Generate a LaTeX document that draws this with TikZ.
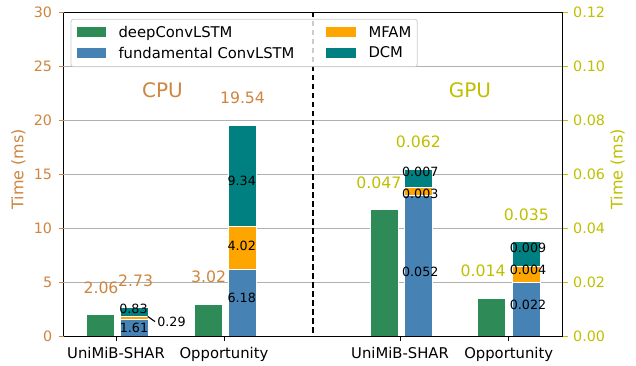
\documentclass[tikz,border=0pt]{standalone}
\usepackage{fontspec}
\setmainfont{DejaVu Sans}
\definecolor{cpuc}{HTML}{CD853F}
\definecolor{gpuc}{HTML}{BFBF00}
\definecolor{dgreen}{HTML}{2E8B57}
\definecolor{sblue}{HTML}{4682B4}
\definecolor{morange}{HTML}{FFA500}
\definecolor{dteal}{HTML}{008080}
\definecolor{gridc}{HTML}{B0B0B0}
\definecolor{legc}{HTML}{CCCCCC}
\tikzset{
  gridline/.style={gridc, line width=0.8pt},
  barbox/.style={draw=white, line width=0.5pt},
  seglabel/.style={inner sep=0pt, anchor=base, font=\fontsize{12.7}{14}\selectfont, text=black},
  cputot/.style={inner sep=0pt, anchor=base, font=\fontsize{15.7}{18}\selectfont, text=cpuc},
  gputot/.style={inner sep=0pt, anchor=base, font=\fontsize{15.7}{18}\selectfont, text=gpuc},
  biglabel/.style={inner sep=0pt, anchor=base, font=\fontsize{20}{24}\selectfont},
  ltick/.style={inner sep=0pt, anchor=base east, font=\fontsize{14.3}{16}\selectfont, text=cpuc},
  rtick/.style={inner sep=0pt, anchor=base west, font=\fontsize{14.3}{16}\selectfont, text=gpuc},
  xtick/.style={inner sep=0pt, anchor=base, font=\fontsize{14.8}{17}\selectfont},
  legtext/.style={inner sep=0pt, anchor=base west, font=\fontsize{14.8}{17}\selectfont},
  axlabel/.style={inner sep=0pt, anchor=center, rotate=90, font=\fontsize{16}{19}\selectfont},
}
\begin{document}
\begin{tikzpicture}[x=1pt,y=-1pt]
\useasboundingbox (0,0) rectangle (636,366);
% grid
\foreach \yy in {66.1,120.2,174.25,228.3,282.4}
  \draw[gridline] (63.5,\yy) -- (562.7,\yy);
% CPU UniMiB
\filldraw[barbox, fill=dgreen] (86,336.5) rectangle (114,314.2);
\filldraw[barbox, fill=sblue] (120,336.5) rectangle (148,319.1);
\filldraw[barbox, fill=morange] (120,319.1) rectangle (148,315.9);
\filldraw[barbox, fill=dteal] (120,315.9) rectangle (148,307.0);
% CPU Opportunity
\filldraw[barbox, fill=dgreen] (194,336.5) rectangle (222,303.8);
\filldraw[barbox, fill=sblue] (228,336.5) rectangle (256,269.6);
\filldraw[barbox, fill=morange] (228,269.6) rectangle (256,226.2);
\filldraw[barbox, fill=dteal] (228,226.2) rectangle (256,125.1);
% GPU UniMiB
\filldraw[barbox, fill=dgreen] (370,336.5) rectangle (398,209.4);
\filldraw[barbox, fill=sblue] (404,336.5) rectangle (432,195.3);
\filldraw[barbox, fill=morange] (404,195.3) rectangle (432,187.7);
\filldraw[barbox, fill=dteal] (404,187.7) rectangle (432,169.3);
% GPU Opportunity
\filldraw[barbox, fill=dgreen] (477,336.5) rectangle (505,298.3);
\filldraw[barbox, fill=sblue] (512,336.5) rectangle (540,282.7);
\filldraw[barbox, fill=morange] (512,282.7) rectangle (540,266.0);
\filldraw[barbox, fill=dteal] (512,266.0) rectangle (540,241.7);
% dashed separator
\coordinate (sepT) at (313,12);
\coordinate (sepB) at (313,336.5);
\draw[black, line width=1.8pt, dash pattern=on 5.5pt off 3.5pt] (sepT) -- (sepB);
% axes frame
\draw[black, line width=0.9pt] (63.5,12) rectangle (562.7,336.5);
% left ticks
\foreach \v/\yy in {0/336.5,5/282.4,10/228.3,15/174.25,20/120.2,25/66.1,30/12.0}{
  \draw[cpuc, line width=0.8pt] (58.6,\yy) -- (63.5,\yy);
  \node[ltick] (lt\v) at (52.3,\yy+5.2) {\v};
}
% right ticks
\foreach \v/\yy in {0.00/336.5,0.02/282.4,0.04/228.3,0.06/174.25,0.08/120.2,0.10/66.1,0.12/12.0}{
  \draw[gpuc, line width=0.8pt] (562.7,\yy) -- (567.6,\yy);
  \node[rtick] (rt\v) at (573,\yy+5.2) {\v};
}
% bottom ticks
\foreach \xx/\nm/\lab in {116/a/UniMiB-SHAR,224/b/Opportunity,400/c/UniMiB-SHAR,508.7/d/Opportunity}{
  \draw[black, line width=0.8pt] (\xx,336.5) -- (\xx,341.4);
  \node[xtick] (xt\nm) at (\xx,358) {\lab};
}
% axis labels
\node[axlabel, text=cpuc] (ylabL) at (18.3,169.3) {Time (ms)};
\node[axlabel, text=gpuc] (ylabR) at (617.7,169.3) {Time (ms)};
% section titles
\node[biglabel, text=cpuc] (cpu) at (162.5,97.3) {CPU};
\node[biglabel, text=gpuc] (gpu) at (470,97.3) {GPU};
% CPU labels
\node[cputot] (t1) at (101,293) {2.06};
\node[cputot] (t2) at (135.7,286) {2.73};
\node[seglabel] (s1) at (133.5,313.3) {0.83};
\node[seglabel] (s2) at (134,332.7) {1.61};
\node[seglabel] (s3) at (171.5,326.7) {0.29};
\coordinate (s3p) at (147.8,316.5);
\draw[black, line width=1.1pt] (s3p) -- (155,321.6);
\node[cputot] (t3) at (208.7,282.7) {3.02};
\node[seglabel] (s4) at (241.7,302.7) {6.18};
\node[seglabel] (s5) at (241.7,250) {4.02};
\node[seglabel] (s6) at (241.7,185.7) {9.34};
\node[cputot] (t4) at (242.5,103.3) {19.54};
% GPU labels
\node[gputot] (g1) at (378.8,188.3) {0.047};
\node[gputot] (g2) at (418.3,147.3) {0.062};
\node[seglabel] (g3) at (420.3,176.7) {0.007};
\node[seglabel] (g4) at (420.3,198.3) {0.003};
\node[seglabel] (g5) at (420.3,276.7) {0.052};
\node[gputot] (g6) at (483.2,276) {0.014};
\node[gputot] (g7) at (526.3,220) {0.035};
\node[seglabel] (g8) at (528,252.7) {0.009};
\node[seglabel] (g9) at (528,274) {0.004};
\node[seglabel] (g10) at (528,309.3) {0.022};
% legend
\filldraw[draw=legc, fill=white, fill opacity=0.8, line width=0.8pt, rounded corners=2.5pt] (71,19.3) rectangle (417.3,66.7);
\fill[dgreen] (76.7,26.7) rectangle (106,36.7);
\node[legtext] (l1) at (118.3,37.2) {deepConvLSTM};
\fill[sblue] (76.7,48.3) rectangle (106,58.3);
\node[legtext] (l2) at (118.3,58.6) {fundamental ConvLSTM};
\fill[morange] (325.7,26.7) rectangle (356,36.7);
\node[legtext] (l3) at (368.3,37.2) {MFAM};
\fill[dteal] (325.7,47.7) rectangle (356,57.7);
\node[legtext] (l4) at (368.3,58.0) {DCM};
\end{tikzpicture}
\end{document}
